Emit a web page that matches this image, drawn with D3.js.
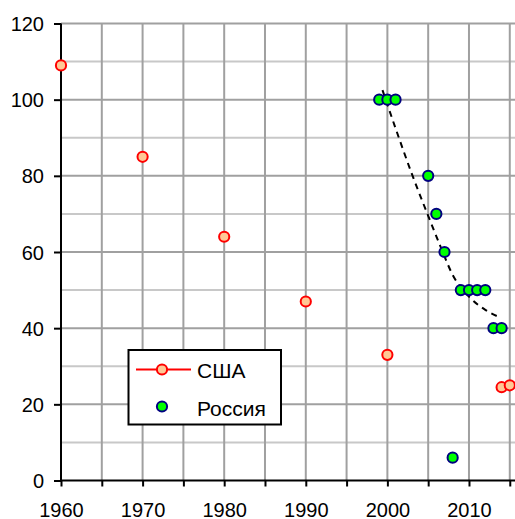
<!DOCTYPE html>
<html>
<head>
<meta charset="utf-8">
<script src="https://cdn.jsdelivr.net/npm/d3@7"></script>
<style>
  html, body { margin: 0; padding: 0; background: #fff; }
  svg { display: block; font-family: "Liberation Sans", Arial, sans-serif; }
</style>
</head>
<body>
<svg id="chart" width="515" height="519"></svg>
<script>
// США
const usaYears  = [1960, 1970, 1980, 1990, 2000, 2014, 2015];
const usaValues = [109, 85, 64, 47, 33, 24.5, 25];

// Россия
const rusYears  = [1999, 2000, 2001, 2005, 2006, 2007, 2008, 2009, 2010, 2011, 2012, 2013, 2014];
const rusValues = [100, 100, 100, 80, 70, 60, 6, 50, 50, 50, 50, 40, 40];

// trend curve through the Russian series
const trendYears  = [1999.4, 2001, 2003, 2005, 2006.5, 2008, 2010, 2012, 2013.6];
const trendValues = [102.5, 92.5, 80.5, 69.5, 61.5, 54, 48.3, 44.8, 43.0];

const xTicks = [1960, 1970, 1980, 1990, 2000, 2010];
const yTicks = [0, 20, 40, 60, 80, 100, 120];

const svg = d3.select("#chart");
const plotL = 61, plotR = 515, plotT = 23.5, plotB = 480.5;
const markerR = 5.1;

const x = d3.scaleLinear().domain([1960, 2015.64]).range([plotL, plotR]);
const y = d3.scaleLinear().domain([0, 120]).range([plotB, plotT]);

// grid
const grid = svg.append("g");
grid.selectAll("line.hminor")
  .data(d3.range(10, 121, 20))
  .join("line")
  .attr("class", "hminor")
  .attr("x1", plotL).attr("x2", plotR)
  .attr("y1", d => y(d)).attr("y2", d => y(d))
  .attr("stroke", "#c8c8c8").attr("stroke-width", 2);
grid.selectAll("line.hmajor")
  .data(yTicks.filter(d => d > 0))
  .join("line")
  .attr("class", "hmajor")
  .attr("x1", plotL).attr("x2", plotR)
  .attr("y1", d => y(d)).attr("y2", d => y(d))
  .attr("stroke", "#a0a0a0").attr("stroke-width", 2);
grid.selectAll("line.v")
  .data(d3.range(1965, 2016, 5))
  .join("line")
  .attr("class", "v")
  .attr("x1", d => x(d)).attr("x2", d => x(d))
  .attr("y1", plotT).attr("y2", plotB)
  .attr("stroke", "#a0a0a0").attr("stroke-width", 2);

// axes
const xAxis = d3.axisBottom(x)
  .tickValues(d3.range(1960, 2016, 5))
  .tickSize(6)
  .tickFormat(d => xTicks.includes(d) ? d : "");
const gx = svg.append("g").attr("transform", `translate(0,${plotB})`).call(xAxis);
gx.select(".domain").remove();
gx.selectAll(".tick line").attr("stroke", "#000").attr("stroke-width", 2);
gx.selectAll(".tick text")
  .attr("y", 36).attr("dy", 0)
  .attr("font-size", 20).attr("fill", "#000")
  .attr("font-family", "Liberation Sans, Arial, sans-serif");

const yAxis = d3.axisLeft(y).tickValues(yTicks).tickSize(7).tickFormat(d3.format("d"));
const gy = svg.append("g").attr("transform", `translate(${plotL},0)`).call(yAxis);
gy.select(".domain").remove();
gy.selectAll(".tick line").attr("stroke", "#000").attr("stroke-width", 2);
gy.selectAll(".tick text")
  .attr("x", -17).attr("dy", "0.35em")
  .attr("font-size", 20).attr("fill", "#000")
  .attr("font-family", "Liberation Sans, Arial, sans-serif");

svg.append("line")
  .attr("x1", plotL).attr("x2", plotL).attr("y1", plotT).attr("y2", plotB + 1)
  .attr("stroke", "#000").attr("stroke-width", 2);
svg.append("line")
  .attr("x1", plotL - 1).attr("x2", plotR).attr("y1", plotB).attr("y2", plotB)
  .attr("stroke", "#000").attr("stroke-width", 2);

// trend
const trend = d3.line()
  .x((d, i) => x(trendYears[i]))
  .y(d => y(d))
  .curve(d3.curveMonotoneX);
svg.append("path")
  .attr("d", trend(trendValues))
  .attr("fill", "none").attr("stroke", "#000")
  .attr("stroke-width", 2).attr("stroke-dasharray", "6,5");

// points
svg.append("g").selectAll("circle")
  .data(usaValues)
  .join("circle")
  .attr("cx", (d, i) => x(usaYears[i]))
  .attr("cy", d => y(d))
  .attr("r", markerR)
  .attr("fill", "#ffc896").attr("stroke", "#ff0000").attr("stroke-width", 2);

svg.append("g").selectAll("circle")
  .data(rusValues)
  .join("circle")
  .attr("cx", (d, i) => x(rusYears[i]))
  .attr("cy", d => y(d))
  .attr("r", markerR)
  .attr("fill", "#00ff00").attr("stroke", "#000080").attr("stroke-width", 2);

// legend
const lg = svg.append("g");
lg.append("rect")
  .attr("x", 128.5).attr("y", 350).attr("width", 152.5).attr("height", 74.5)
  .attr("fill", "#fff").attr("stroke", "#000").attr("stroke-width", 2);
lg.append("line")
  .attr("x1", 136).attr("x2", 191).attr("y1", 369.5).attr("y2", 369.5)
  .attr("stroke", "#ff0000").attr("stroke-width", 2);
lg.append("circle")
  .attr("cx", 162).attr("cy", 369.5).attr("r", markerR)
  .attr("fill", "#ffc896").attr("stroke", "#ff0000").attr("stroke-width", 2);
lg.append("circle")
  .attr("cx", 162).attr("cy", 406.5).attr("r", markerR)
  .attr("fill", "#00ff00").attr("stroke", "#000080").attr("stroke-width", 2);
lg.append("text").attr("x", 197).attr("y", 377.5)
  .attr("font-size", 21).attr("fill", "#000").text("США");
lg.append("text").attr("x", 197).attr("y", 415.5)
  .attr("font-size", 21).attr("fill", "#000").text("Россия");
</script>
</body>
</html>
